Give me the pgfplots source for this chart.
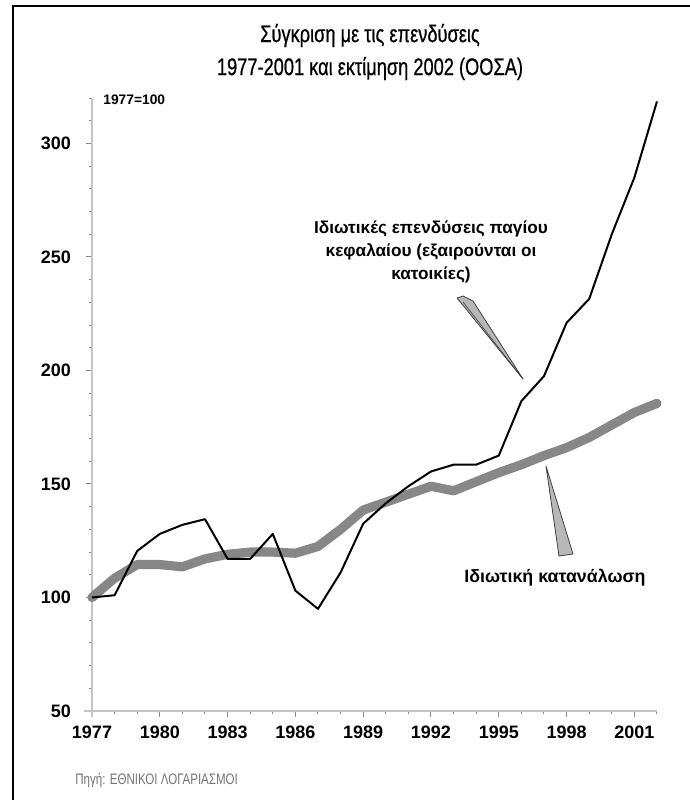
\documentclass[border=0pt]{standalone}
\usepackage{pgfplots}
\pgfplotsset{compat=1.18}
\usepackage{pgfplotstable}
\usepackage{fontspec}
\setmainfont{Liberation Sans}
\newfontfamily\narrowfont[FakeStretch=0.76,FakeBold=0.6]{Liberation Sans}
\newfontfamily\narrowlight[FakeStretch=0.76]{Liberation Sans}
\definecolor{consgray}{HTML}{878787}
\definecolor{axgray}{HTML}{C4C4C4}
\definecolor{wedgegray}{HTML}{B8B8B8}
\pgfplotstableread{
year inv cons
1977 100 100
1978 101 108.5
1979 120.5 114.5
1980 128 114.5
1981 132 113.5
1982 134.5 117
1983 117 119
1984 117 120
1985 128 120
1986 103 119.5
1987 95 122.5
1988 111 130
1989 132.5 138.5
1990 141.5 142
1991 149 145.5
1992 155.5 149
1993 158.5 147
1994 158.5 151
1995 162.5 155
1996 186.5 158.5
1997 197.5 162.5
1998 221 166
1999 231.5 170.5
2000 260 176
2001 285 181.5
2002 318.5 185.5
}\datatable
\begin{document}
\begin{tikzpicture}
\begin{scope}[x=0.5pt,y=-0.5pt]
\path[use as bounding box] (0,0) rectangle (690,800);
\fill[white] (0,0) rectangle (690,800);
\draw[line width=1.4pt] (13,800) -- (13,6) -- (690,6);
\end{scope}
\begin{axis}[
  at={(46pt,-355.5pt)}, anchor=south west,
  scale only axis, width=282.5pt, height=306.5pt,
  xmin=1977, xmax=2002, ymin=50, ymax=320,
  axis lines=left,
  axis line style={-, axgray, line width=0.9pt},
  x axis line style={shorten <=-4pt},
  y axis line style={shorten <=-3pt},
  xtick={1977,1980,...,2001},
  minor xtick={1977,1978,...,2002},
  ytick={50,100,...,300},
  minor ytick={60,70,...,320},
  tick align=outside,
  major tick length=3pt,
  minor tick length=1.6pt,
  tick style={axgray!70!black, line width=0.5pt},
  /pgf/number format/assume math mode=true,
  /pgf/number format/set thousands separator={},
  xticklabel style={font=\bfseries\fontsize{9}{9}\selectfont, yshift=-1pt},
  yticklabel style={font=\bfseries\fontsize{9}{9}\selectfont, xshift=-4pt},
  clip=false,
]
\addplot[consgray, line width=4.6pt, line join=round, line cap=round] table[x=year,y=cons] {\datatable};
\addplot[black, line width=1pt, line join=round] table[x=year,y=inv] {\datatable};
\end{axis}
\begin{scope}[x=0.5pt,y=-0.5pt]
\node[font=\narrowfont\fontsize{12}{16.5}\selectfont, align=center] at (370,52)
  {Σύγκριση με τις επενδύσεις\\1977-2001 και εκτίμηση 2002 (ΟΟΣΑ)};
\node[font=\bfseries\fontsize{6.9}{6.9}\selectfont, anchor=west, inner sep=0pt] at (103,100) {1977=100};
\node[font=\bfseries\fontsize{8.6}{11.5}\selectfont, align=center] at (431,252)
  {Ιδιωτικές επενδύσεις παγίου\\κεφαλαίου (εξαιρούνται οι\\κατοικίες)};
\filldraw[fill=wedgegray, draw=black!75, line width=0.4pt, line join=round]
  (457,298) -- (463,296) -- (473,301) -- (523,379) -- cycle;
\draw[black!75, line width=0.3pt] (463,302) -- (523,379);
\filldraw[fill=wedgegray, draw=black!75, line width=0.4pt, line join=round]
  (546,466) -- (573,554) -- (559,556) -- cycle;
\node[font=\bfseries\fontsize{8.9}{8.9}\selectfont] at (555,578) {Ιδιωτική κατανάλωση};
\node[font=\narrowlight\fontsize{7.6}{7.6}\selectfont, text=black!55, anchor=west, inner sep=0pt] at (75,780)
  {Πηγή: ΕΘΝΙΚΟΙ ΛΟΓΑΡΙΑΣΜΟΙ};
\end{scope}
\end{tikzpicture}
\end{document}
